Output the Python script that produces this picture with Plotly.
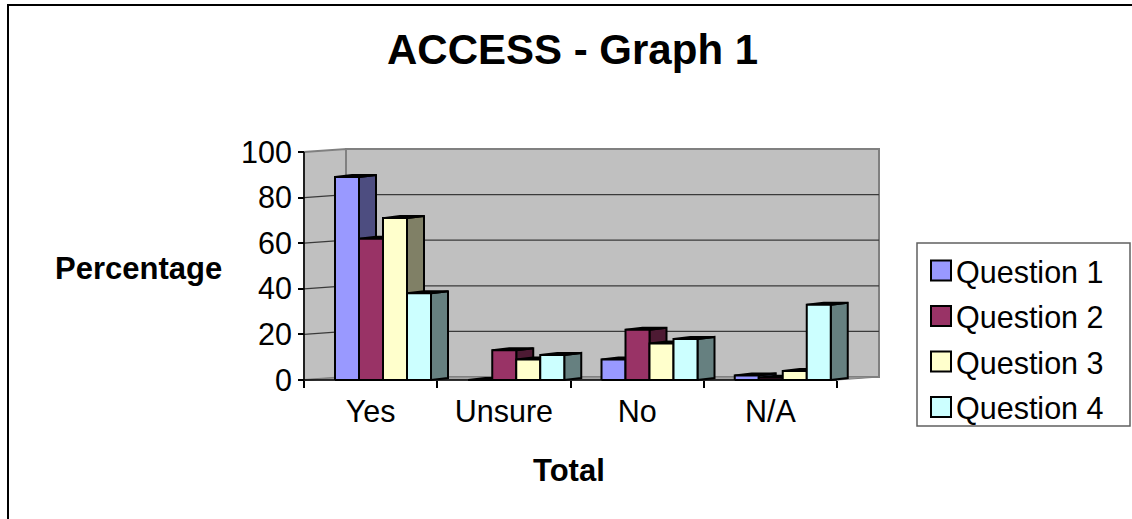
import plotly.graph_objects as go

# ---- data -------------------------------------------------------------
categories = ["Yes", "Unsure", "No", "N/A"]
series_names = ["Question 1", "Question 2", "Question 3", "Question 4"]
q1 = [89, 0, 9, 2]
q2 = [62, 13, 22, 1]
q3 = [71, 9, 16, 4]
q4 = [38, 11, 18, 33]
y_ticks = [0, 20, 40, 60, 80, 100]

front_colors = ["#9999FF", "#993366", "#FFFFCC", "#CCFFFF"]
side_colors = ["#4D4D80", "#4D1A33", "#808066", "#668080"]

# ---- geometry (one category = 1 unit on x, value units on y) -----------
W, H = 1132, 519
X0_PX, UNIT_X = 304.0, 133.25      # front x-axis origin and category width
Y0_PX, UNIT_Y = 380.0, 2.28        # front baseline and pixels per percent


def px_x(px):
    return (px - X0_PX) / UNIT_X


def px_y(py):
    return (Y0_PX - py) / UNIT_Y


def paper_x(px):
    return px / W


def paper_y(py):
    return 1 - py / H


WALL_DX = 42 / UNIT_X     # depth of the back wall
WALL_DY = 3 / UNIT_Y
N_CAT = len(categories)
BAR_GAP = 31 / UNIT_X     # offset of first bar inside a category
BAR_W = 24 / UNIT_X
BAR_DX = 17 / UNIT_X      # visible depth of every bar
BAR_DY = 2 / UNIT_Y

FONT = "Liberation Sans, Arial, sans-serif"
fig = go.Figure()

# ---- walls, floor and gridlines ----------------------------------------
shapes = []


def poly(xs, ys):
    return "M " + " L ".join(f"{x},{y}" for x, y in zip(xs, ys)) + " Z"


wall_fill = "#C0C0C0"
top_v = y_ticks[-1]
# back wall
shapes.append(dict(type="rect", xref="x", yref="y", layer="below",
                   x0=WALL_DX, x1=N_CAT + WALL_DX, y0=WALL_DY, y1=top_v + WALL_DY,
                   fillcolor=wall_fill, line=dict(color="#808080", width=2)))
# side wall
shapes.append(dict(type="path", xref="x", yref="y", layer="below",
                   path=poly([0, 0, WALL_DX, WALL_DX], [0, top_v, top_v + WALL_DY, WALL_DY]),
                   fillcolor=wall_fill, line=dict(color="#808080", width=2)))
# floor
shapes.append(dict(type="path", xref="x", yref="y", layer="below",
                   path=poly([0, N_CAT, N_CAT + WALL_DX, WALL_DX], [0, 0, WALL_DY, WALL_DY]),
                   fillcolor="#A6A6A6", line=dict(color="#808080", width=1)))
# gridlines on side wall and back wall
for v in y_ticks[1:-1]:
    shapes.append(dict(type="line", xref="x", yref="y", layer="below",
                       x0=0, y0=v, x1=WALL_DX, y1=v + WALL_DY,
                       line=dict(color="#3A3A3A", width=1.3)))
    shapes.append(dict(type="line", xref="x", yref="y", layer="below",
                       x0=WALL_DX, y0=v + WALL_DY, x1=N_CAT + WALL_DX, y1=v + WALL_DY,
                       line=dict(color="#3A3A3A", width=1.3)))
# front axis lines
shapes.append(dict(type="line", xref="x", yref="y", layer="below",
                   x0=0, y0=0, x1=0, y1=top_v, line=dict(color="#000000", width=1.5)))
shapes.append(dict(type="line", xref="x", yref="y", layer="below",
                   x0=0, y0=0, x1=N_CAT, y1=0, line=dict(color="#000000", width=1.5)))

# ---- 3D columns ---------------------------------------------------------
all_series = [q1, q2, q3, q4]
for s, values in enumerate(all_series):
    fx, fy, sx, sy, tx, ty = [], [], [], [], [], []
    for c, v in enumerate(values):
        xl = c + BAR_GAP + s * BAR_W
        xr = xl + BAR_W
        fx += [xl, xr, xr, xl, xl, None]
        fy += [0, 0, v, v, 0, None]
        sx += [xr, xr + BAR_DX, xr + BAR_DX, xr, xr, None]
        sy += [0, BAR_DY, v + BAR_DY, v, 0, None]
        tx += [xl, xr, xr + BAR_DX, xl + BAR_DX, xl, None]
        ty += [v, v, v + BAR_DY, v + BAR_DY, v, None]
    for xs, ys, col in ((sx, sy, side_colors[s]), (tx, ty, side_colors[s]),
                        (fx, fy, front_colors[s])):
        fig.add_trace(go.Scatter(
            x=xs, y=ys, mode="lines", fill="toself", fillcolor=col,
            line=dict(color="#000000", width=2), hoverinfo="skip",
            name=series_names[s], showlegend=False))

# ---- legend box ---------------------------------------------------------
shapes.append(dict(type="rect", xref="paper", yref="paper",
                   x0=paper_x(917), x1=paper_x(1130), y0=paper_y(426), y1=paper_y(243),
                   fillcolor="#FFFFFF", line=dict(color="#606060", width=1.5)))
annotations = []
row_y = [270.5, 316, 361.5, 407]
for i, name in enumerate(series_names):
    cy = row_y[i]
    shapes.append(dict(type="rect", xref="paper", yref="paper",
                       x0=paper_x(931), x1=paper_x(951),
                       y0=paper_y(cy + 10), y1=paper_y(cy - 10),
                       fillcolor=front_colors[i], line=dict(color="#000000", width=2)))
    annotations.append(dict(xref="paper", yref="paper", x=paper_x(954), y=paper_y(cy + 1),
                            text=name, showarrow=False, xanchor="left", yanchor="middle",
                            font=dict(family=FONT, size=30.5, color="#000000")))

# ---- outer frame: only its left and top edges fall inside the page -------
shapes.append(dict(type="rect", xref="paper", yref="paper",
                   x0=paper_x(8), x1=paper_x(W + 40), y0=paper_y(H + 40), y1=paper_y(5),
                   fillcolor="rgba(0,0,0,0)", line=dict(color="#000000", width=2)))

# ---- titles -------------------------------------------------------------
annotations.append(dict(xref="paper", yref="paper", x=paper_x(572), y=paper_y(50),
                        text="<b>ACCESS - Graph 1</b>", showarrow=False,
                        xanchor="center", yanchor="middle",
                        font=dict(family=FONT, size=42, color="#000000")))
annotations.append(dict(xref="paper", yref="paper", x=paper_x(138), y=paper_y(269),
                        text="<b>Percentage</b>", showarrow=False,
                        xanchor="center", yanchor="middle",
                        font=dict(family=FONT, size=31, color="#000000")))
annotations.append(dict(xref="paper", yref="paper", x=paper_x(569), y=paper_y(470),
                        text="<b>Total</b>", showarrow=False,
                        xanchor="center", yanchor="middle",
                        font=dict(family=FONT, size=31, color="#000000")))

fig.update_layout(
    width=W, height=H, margin=dict(l=0, r=0, t=0, b=0),
    paper_bgcolor="#FFFFFF", plot_bgcolor="rgba(0,0,0,0)",
    showlegend=False, shapes=shapes, annotations=annotations,
    xaxis=dict(range=[px_x(0), px_x(W)], anchor="free", position=paper_y(Y0_PX),
               tickmode="array", tickvals=[c + 0.5 for c in range(N_CAT)],
               ticktext=categories, ticks="", ticklabelstandoff=10,
               tickfont=dict(family=FONT, size=30.5, color="#000000"),
               minor=dict(tickmode="array", tickvals=list(range(N_CAT + 1)),
                          ticks="outside", ticklen=7, tickcolor="#000000", tickwidth=1.5),
               showgrid=False, zeroline=False, showline=False, fixedrange=True),
    yaxis=dict(range=[px_y(H), px_y(0)], anchor="free", position=paper_x(X0_PX),
               tickmode="array", tickvals=y_ticks, ticks="outside", ticklen=6,
               tickcolor="#000000", tickwidth=1.5,
               tickfont=dict(family=FONT, size=30.5, color="#000000"),
               showgrid=False, zeroline=False, showline=False, fixedrange=True),
)

fig.write_html("out.html", config={"displayModeBar": False})
